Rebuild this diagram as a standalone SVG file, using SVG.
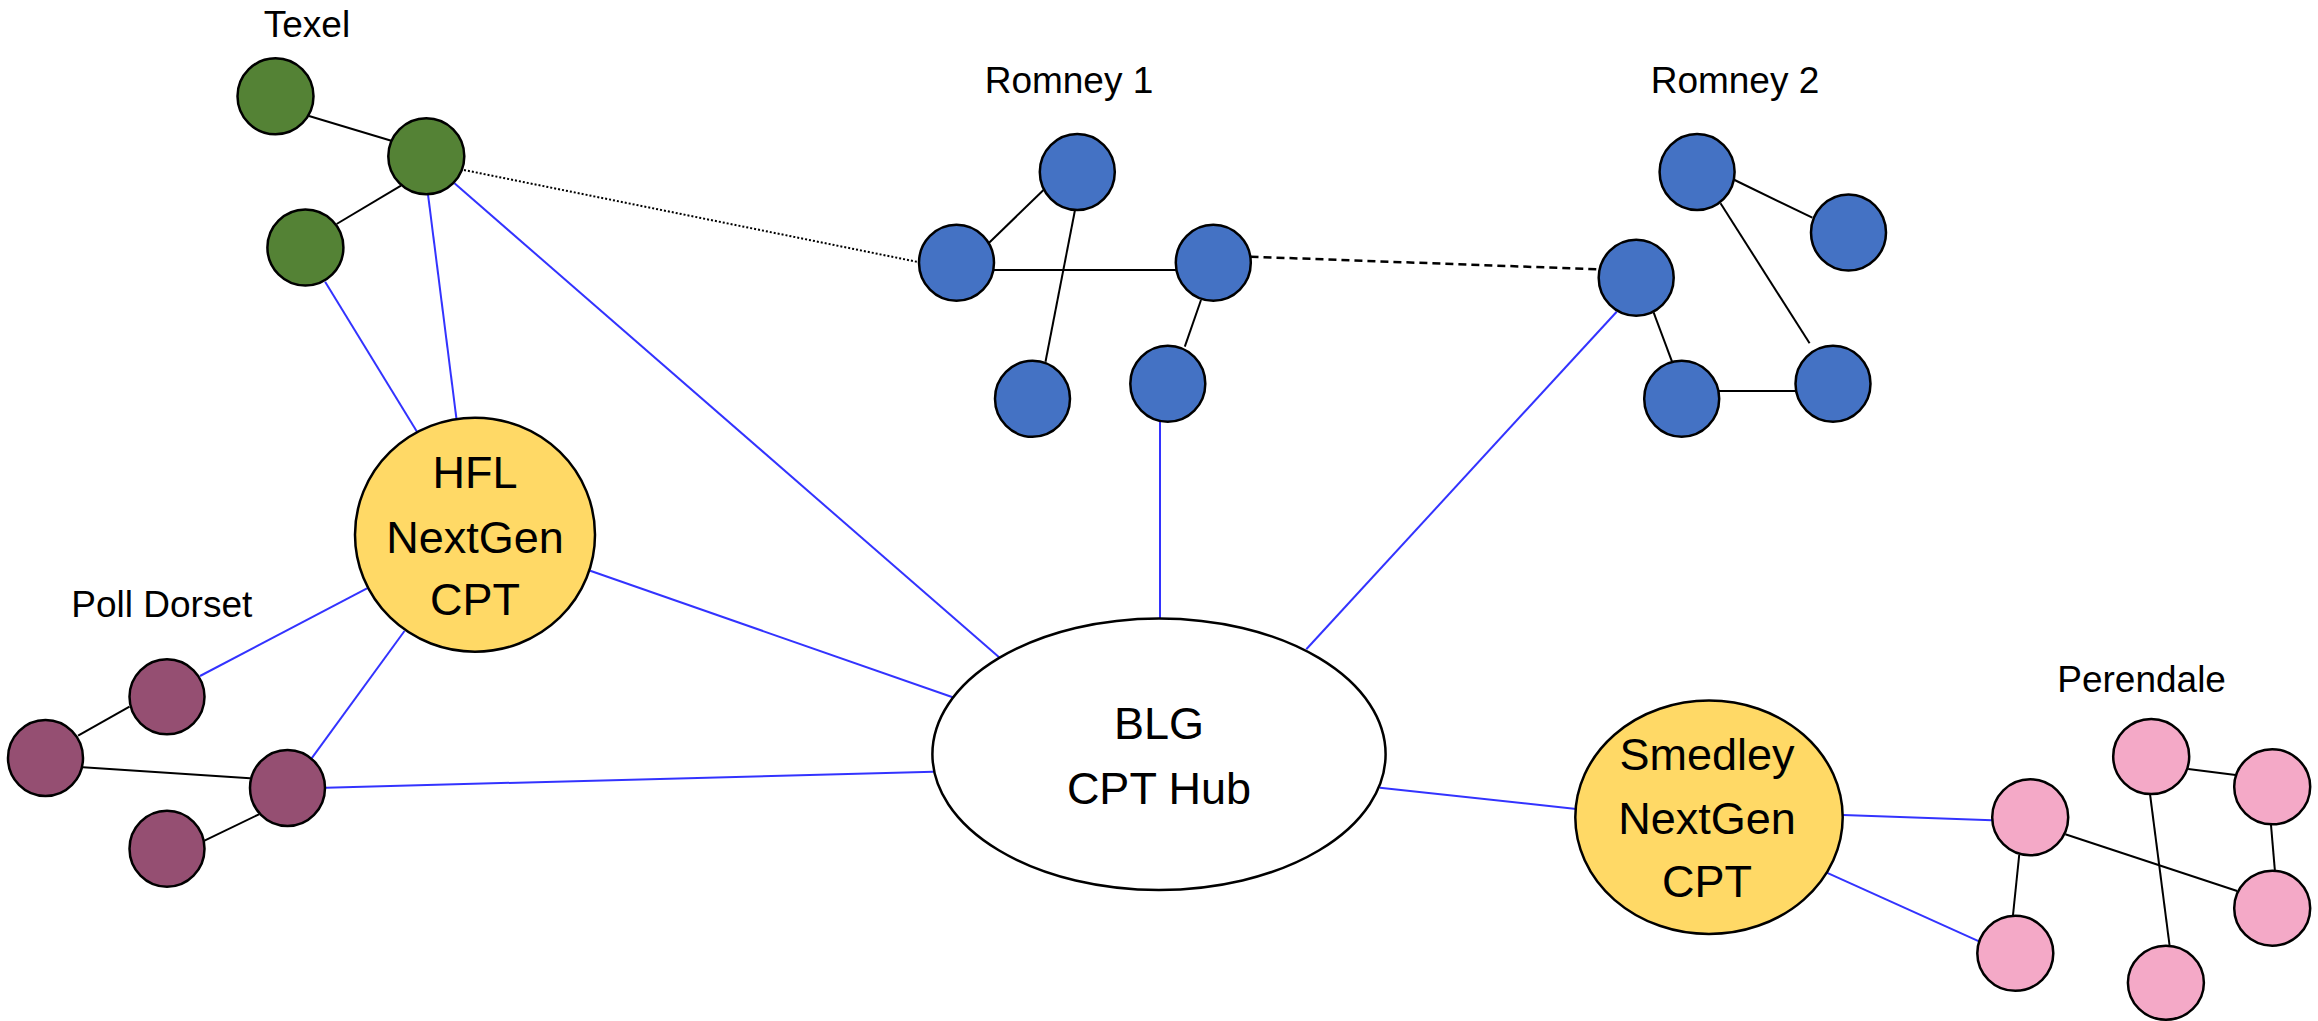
<svg xmlns="http://www.w3.org/2000/svg" width="2318" height="1021" viewBox="0 0 2318 1021">
<style>
text{font-family:"Liberation Sans",Arial,sans-serif;fill:#000;text-anchor:middle}
.lbl{font-size:37px}
.big{font-size:45px}
.n{stroke:#000;stroke-width:2.5}
.g{fill:#548235}.b{fill:#4472C4}.p{fill:#954F72}.k{fill:#F4A9C7}.y{fill:#FFD966}.w{fill:#FFFFFF}
.e{stroke:#000;stroke-width:2;fill:none}
.bl{stroke:#3333FF;stroke-width:2;fill:none}
.dot{stroke:#000;stroke-width:2;stroke-dasharray:2 2;fill:none}
.dash{stroke:#000;stroke-width:2.5;stroke-dasharray:8 5;fill:none}
</style>
<rect width="2318" height="1021" fill="#FFFFFF"/>
<g id="connectors">
<line class="e" x1="309" y1="116" x2="391.3" y2="140.7"/>
<line class="e" x1="401" y1="185.7" x2="336.6" y2="224"/>
<line class="bl" x1="325.1" y1="281.7" x2="417" y2="431.7"/>
<line class="bl" x1="428" y1="194.3" x2="456.4" y2="418.3"/>
<line class="bl" x1="454.5" y1="183.3" x2="999.1" y2="657.3"/>
<line class="dot" x1="464" y1="170" x2="918" y2="262"/>
<line class="e" x1="1043.5" y1="190" x2="988.6" y2="243.3"/>
<line class="e" x1="1075" y1="210" x2="1045.5" y2="361.7"/>
<line class="e" x1="994" y1="270" x2="1176" y2="270" stroke-width="2.5"/>
<line class="e" x1="1201" y1="300" x2="1184.8" y2="346.7"/>
<line class="bl" x1="1160" y1="421.7" x2="1160" y2="618.5"/>
<line class="dash" x1="1250.5" y1="256.7" x2="1598" y2="269.3"/>
<line class="e" x1="1734.6" y1="180" x2="1812.3" y2="217.7"/>
<line class="e" x1="1720.5" y1="203.3" x2="1809.6" y2="343.3"/>
<line class="e" x1="1653.6" y1="312.3" x2="1672.3" y2="362.3"/>
<line class="e" x1="1719" y1="391" x2="1795.5" y2="391" stroke-width="2.5"/>
<line class="bl" x1="1616.7" y1="311.7" x2="1306.3" y2="649.3"/>
<line class="e" x1="129.5" y1="706.7" x2="78.1" y2="735.7"/>
<line class="e" x1="83" y1="767.3" x2="250" y2="778.3"/>
<line class="e" x1="259" y1="814.3" x2="204.5" y2="840.7"/>
<line class="bl" x1="200" y1="676" x2="367" y2="588.3"/>
<line class="bl" x1="311.6" y1="758.3" x2="404.5" y2="631"/>
<line class="bl" x1="325.9" y1="787.7" x2="933.5" y2="771.7"/>
<line class="bl" x1="590.2" y1="570.7" x2="952.7" y2="697.3"/>
<line class="bl" x1="1379.9" y1="787.7" x2="1576.3" y2="809"/>
<line class="bl" x1="1843" y1="815" x2="1992" y2="820.3"/>
<line class="bl" x1="1826.7" y1="872.7" x2="1979.6" y2="941.7"/>
<line class="e" x1="2188.2" y1="769" x2="2235.7" y2="775"/>
<line class="e" x1="2150" y1="794" x2="2169.6" y2="945.7"/>
<line class="e" x1="2271" y1="825" x2="2274.9" y2="870.7"/>
<line class="e" x1="2065.3" y1="834.3" x2="2237.2" y2="891"/>
<line class="e" x1="2019.2" y1="855" x2="2012.9" y2="916"/>
</g>
<g id="texel">
<text class="lbl" x="307" y="37">Texel</text>
<ellipse id="texel-1" class="n g" cx="275.5" cy="96.3" rx="38" ry="38"/>
<ellipse id="texel-2" class="n g" cx="426.3" cy="156.3" rx="38" ry="38"/>
<ellipse id="texel-3" class="n g" cx="305.4" cy="247.5" rx="38" ry="38"/>
</g>
<g id="romney1">
<text class="lbl" x="1069" y="92.7">Romney 1</text>
<ellipse id="romney1-a" class="n b" cx="1077.3" cy="172" rx="37.5" ry="38"/>
<ellipse id="romney1-b" class="n b" cx="956.5" cy="262.8" rx="37.5" ry="38"/>
<ellipse id="romney1-c" class="n b" cx="1213.3" cy="262.8" rx="37.5" ry="38"/>
<ellipse id="romney1-d" class="n b" cx="1032.5" cy="398.8" rx="37.5" ry="38"/>
<ellipse id="romney1-e" class="n b" cx="1167.8" cy="383.8" rx="37.5" ry="38"/>
</g>
<g id="romney2">
<text class="lbl" x="1735" y="92.7">Romney 2</text>
<ellipse id="romney2-a" class="n b" cx="1697.1" cy="172" rx="37.5" ry="38"/>
<ellipse id="romney2-b" class="n b" cx="1848.5" cy="232.5" rx="37.5" ry="38"/>
<ellipse id="romney2-c" class="n b" cx="1636.2" cy="277.8" rx="37.5" ry="38"/>
<ellipse id="romney2-d" class="n b" cx="1681.7" cy="398.8" rx="37.5" ry="38"/>
<ellipse id="romney2-e" class="n b" cx="1833" cy="383.8" rx="37.5" ry="38"/>
</g>
<g id="hfl">
<ellipse class="n y" cx="475" cy="534.7" rx="120" ry="117"/>
<text class="big" x="475" y="488">HFL</text>
<text class="big" x="475" y="553">NextGen</text>
<text class="big" x="475" y="615">CPT</text>
</g>
<g id="polldorset">
<text class="lbl" x="161.8" y="617.3">Poll Dorset</text>
<ellipse id="polldorset-1" class="n p" cx="167" cy="696.8" rx="37.5" ry="37.5"/>
<ellipse id="polldorset-2" class="n p" cx="45.5" cy="758" rx="37.5" ry="38"/>
<ellipse id="polldorset-3" class="n p" cx="287.5" cy="788" rx="37.5" ry="38"/>
<ellipse id="polldorset-4" class="n p" cx="167" cy="848.7" rx="37.5" ry="38"/>
</g>
<g id="blg">
<ellipse class="n w" cx="1159" cy="754.2" rx="226.6" ry="135.8"/>
<text class="big" x="1159" y="739">BLG</text>
<text class="big" x="1159" y="804">CPT Hub</text>
</g>
<g id="smedley">
<ellipse class="n y" cx="1709" cy="817.3" rx="133.7" ry="116.7"/>
<text class="big" x="1707" y="770">Smedley</text>
<text class="big" x="1707" y="834">NextGen</text>
<text class="big" x="1707" y="897">CPT</text>
</g>
<g id="perendale">
<text class="lbl" x="2141.6" y="691.7">Perendale</text>
<ellipse id="perendale-1" class="n k" cx="2151.2" cy="756.5" rx="38" ry="37.5"/>
<ellipse id="perendale-2" class="n k" cx="2272.2" cy="786.8" rx="38" ry="37.5"/>
<ellipse id="perendale-3" class="n k" cx="2030.2" cy="817.3" rx="38" ry="38"/>
<ellipse id="perendale-4" class="n k" cx="2272.2" cy="908.2" rx="38" ry="37.5"/>
<ellipse id="perendale-5" class="n k" cx="2015.3" cy="953.3" rx="38" ry="37.5"/>
<ellipse id="perendale-6" class="n k" cx="2165.9" cy="982.7" rx="38" ry="37"/>
</g>
</svg>
